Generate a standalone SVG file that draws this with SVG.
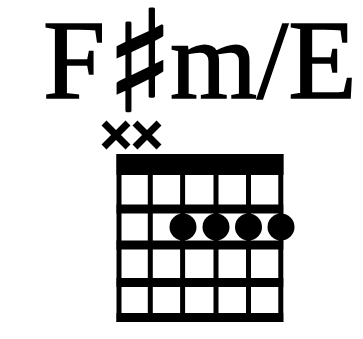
<svg xmlns="http://www.w3.org/2000/svg" width="363" height="339" viewBox="0 0 363 339">
<style>
.title{font-family:"Liberation Serif","Times New Roman",serif;font-size:112px;fill:#000;stroke:#000;stroke-width:1.5}
.sharp{font-family:"DejaVu Sans",sans-serif;font-size:140px;font-weight:bold;stroke-width:2.5}
.str{stroke:#000;stroke-width:5}
.fret{stroke:#000;stroke-width:9}
.mute{stroke:#000;stroke-width:7;stroke-linecap:butt}
.dot{fill:#000}
</style>
<rect width="363" height="339" fill="#fff"/>
<g id="title">
<text class="title" y="98"><tspan x="43">F</tspan><tspan class="sharp" x="106" y="111">♯</tspan><tspan x="170" y="98">m/E</tspan></text>
</g>
<g id="muted">
<path class="mute" d="M104 123 L128 147 M128 123 L104 147"/>
<path class="mute" d="M135 123 L159 147 M159 123 L135 147"/>
</g>
<g id="grid">
<rect x="116.5" y="154" width="167" height="21" fill="#000"/>
<line class="str" x1="119" y1="154" x2="119" y2="322"/>
<line class="str" x1="150.3" y1="154" x2="150.3" y2="322"/>
<line class="str" x1="182.6" y1="154" x2="182.6" y2="322"/>
<line class="str" x1="216" y1="154" x2="216" y2="322"/>
<line class="str" x1="248.5" y1="154" x2="248.5" y2="322"/>
<line class="str" x1="280.8" y1="154" x2="280.8" y2="322"/>
<line class="fret" x1="116.5" y1="209" x2="283.3" y2="209"/>
<line class="fret" x1="116.5" y1="245" x2="283.3" y2="245"/>
<line class="fret" x1="116.5" y1="282.5" x2="283.3" y2="282.5"/>
<line class="fret" x1="116.5" y1="317.5" x2="283.3" y2="317.5"/>
</g>
<g id="barre">
<circle class="dot" cx="183" cy="227" r="13.5"/>
<circle class="dot" cx="216" cy="227" r="13.5"/>
<circle class="dot" cx="248.5" cy="227" r="13.5"/>
<circle class="dot" cx="281" cy="227" r="13.5"/>
</g>
</svg>
